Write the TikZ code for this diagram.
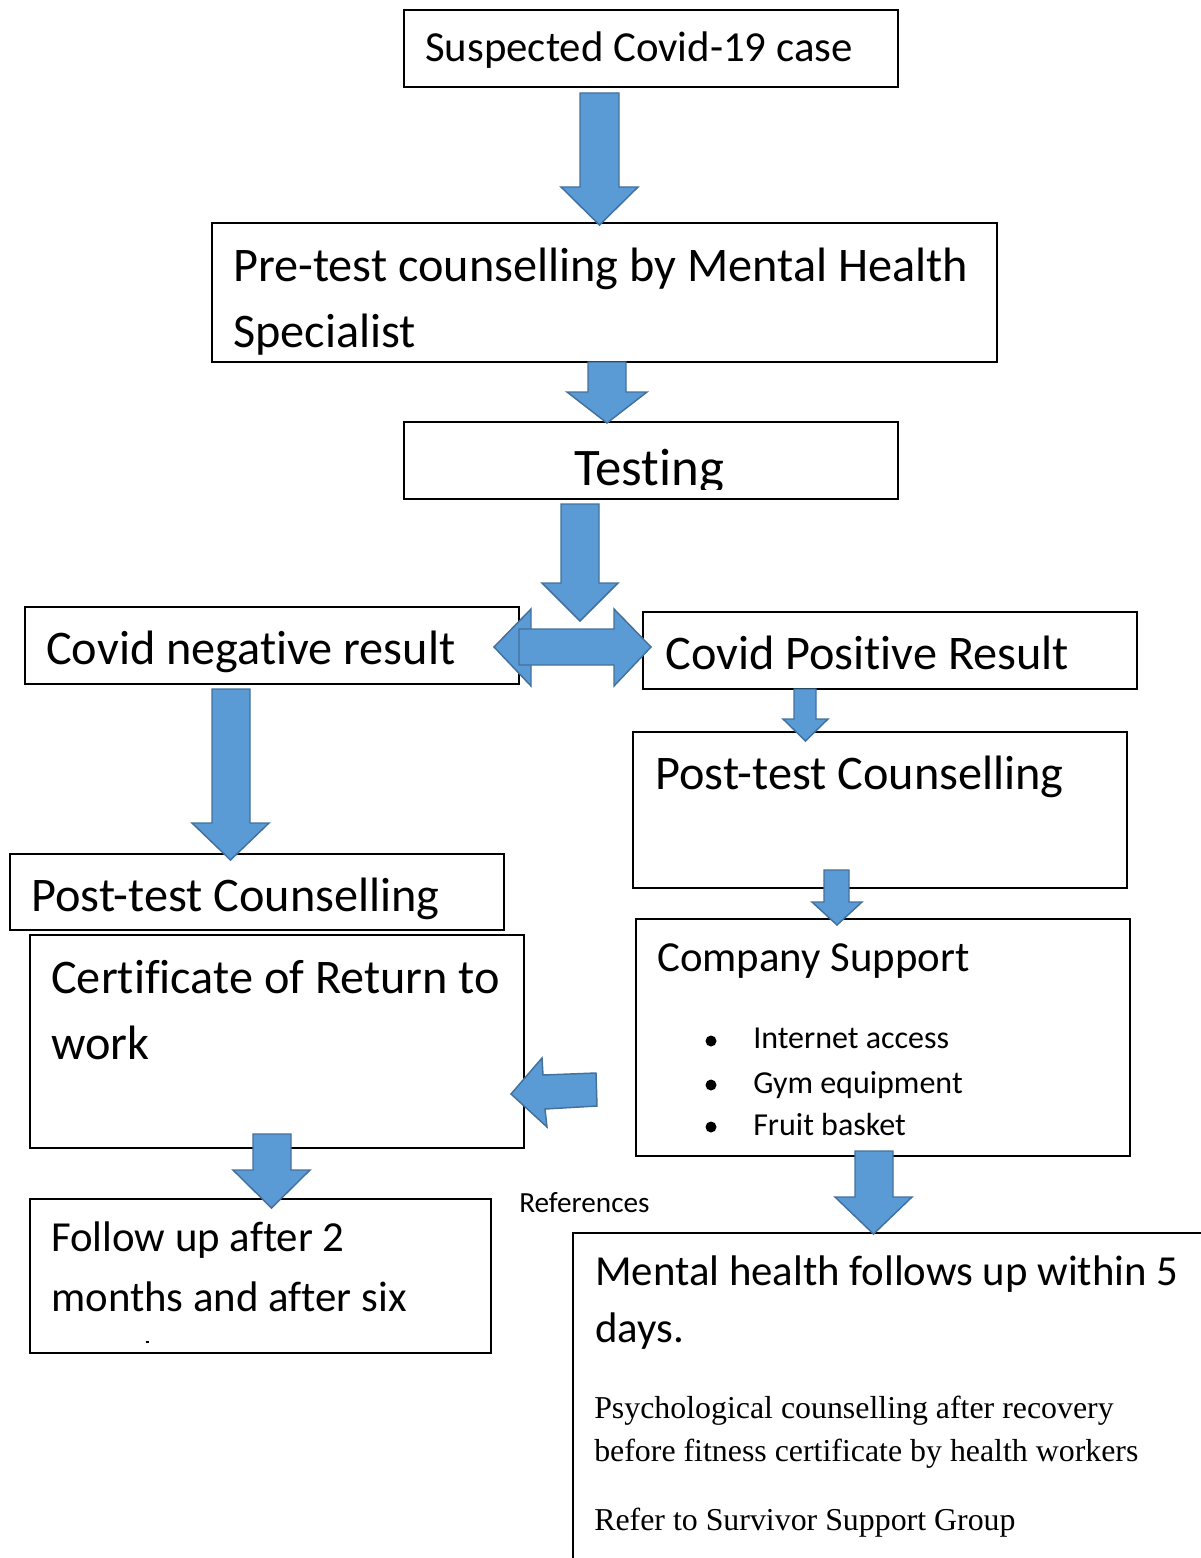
\documentclass[tikz,border=0pt]{standalone}
\usepackage{fontspec}
\setmainfont{Carlito}[Ligatures=NoCommon]
\newfontfamily\tnr{Liberation Serif}
\usetikzlibrary{fit}
\definecolor{arrfill}{HTML}{5B9BD5}
\definecolor{arrline}{HTML}{41719C}
\tikzset{
  box/.style={draw=black, line width=1.3pt, fill=white, inner sep=0pt},
  blockarrow/.style={fill=arrfill, draw=arrline, line width=1.1pt, line join=miter},
  txtL/.style={anchor=base west, inner sep=0pt, font=\fontsize{36.2}{43}\selectfont},
  txtM/.style={anchor=base west, inner sep=0pt, font=\fontsize{32.1}{38}\selectfont},
  txtS/.style={anchor=base west, inner sep=0pt, font=\fontsize{24}{29}\selectfont},
  txtR/.style={anchor=base west, inner sep=0pt, font=\fontsize{21.9}{26}\selectfont},
  txtT/.style={anchor=base west, inner sep=0pt, font=\tnr\fontsize{23.9}{29}\selectfont},
}
\newcommand{\dnarrow}[7]{%
  \path[blockarrow] (#1,#3) -- (#2,#3) -- (#2,#4) -- (#6,#4) -- ({(#5+#6)/2},#7) -- (#5,#4) -- (#1,#4) -- cycle;}
\begin{document}
\begin{tikzpicture}[x=0.75pt, y=-0.75pt]
\useasboundingbox (0,0) rectangle (1201,1558);
\clip (0,0) rectangle (1201,1558);
% boxes
\node[box, fit={(404,10) (898,87)}] (b1) {};
\node[box, fit={(212,223) (997,362)}] (b2) {};
\node[box, fit={(404,422) (898,499)}] (b3) {};
\node[box, fit={(25,607) (519,684)}] (bneg) {};
\node[box, fit={(643,612) (1137,689)}] (bpos) {};
\node[box, fit={(633,732) (1127,888)}] (bpostR) {};
\node[box, fit={(636,919) (1130,1156)}] (bcomp) {};
\node[box, fit={(10,854) (504,930)}] (bpostL) {};
\node[box, fit={(30,935) (524,1148)}] (bcert) {};
\node[box, fit={(30,1199) (491,1353)}] (bfollow) {};
\node[box, fit={(573,1233) (1215,1575)}] (bmental) {};
% texts
\node[txtM] (t1) at (425,62) {Suspected Covid-19 case};
\node[txtL] (t2a) at (233,282) {Pre-test counselling by Mental Health};
\node[txtL] (t2b) at (233,347) {Specialist};
\begin{scope}
\clip (404,422) rectangle (898,489);
\node[anchor=base west, inner sep=0pt, font=\fontsize{39.6}{47}\selectfont] (t3) at (574,485) {Testing};
\end{scope}
\node[txtL] (tneg) at (46,664) {Covid negative result};
\node[txtL] (tpos) at (665,669) {Covid Positive Result};
\node[txtL] (tpostR) at (655,789) {Post-test Counselling};
\node[txtL] (tpostL) at (31,911) {Post-test Counselling};
\node[txtL] (tcertA) at (51,993) {Certificate of Return to};
\node[txtL] (tcertB) at (51,1059) {work};
\node[txtM] (tcomp) at (657,971) {Company Support};
\fill (711,1041) circle (5.5);
\fill (711,1085) circle (5.5);
\fill (711,1127) circle (5.5);
\node[txtS] (ti1) at (753,1048) {Internet access};
\node[txtS] (ti2) at (753,1093) {Gym equipment};
\node[txtS] (ti3) at (753,1135) {Fruit basket};
\node[txtR] (tref) at (519,1212) {References};
\node[txtM] (tfA) at (51,1251) {Follow up after 2};
\node[txtM] (tfB) at (51,1311) {months and after six};
\draw[line width=0.8pt] (145.5,1342) -- (149,1342);
\node[txtM] (tmA) at (595,1285) {Mental health follows up within 5};
\node[txtM] (tmB) at (595,1342) {days.};
\node[txtT] (tpA) at (594,1418) {Psychological counselling after recovery};
\node[txtT] (tpB) at (594,1461) {before fitness certificate by health workers};
\node[txtT] (tpC) at (594,1530) {Refer to Survivor Support Group};
% block arrows
\dnarrow{580}{619}{93}{187}{561}{638}{225}
\dnarrow{588}{626}{362}{392}{567}{647}{423}
\dnarrow{561}{599}{504}{583}{542}{618}{621}
\path[blockarrow] (494,647) -- (531,609) -- (531,686) -- cycle;
\path[blockarrow] (519,629) -- (614,629) -- (614,609) -- (651,647) -- (614,686) -- (614,665) -- (519,665) -- cycle;
\dnarrow{794}{816}{689}{719}{783}{828}{741}
\dnarrow{824}{849}{870}{902}{812}{862}{925}
\dnarrow{855}{893}{1151}{1197}{835}{912}{1234}
\dnarrow{253}{291}{1134}{1170}{233}{310}{1208}
\dnarrow{212}{250}{689}{823}{192}{269}{860}
\path[blockarrow] (511,1094) -- (542,1058) -- (543,1075) -- (596,1073) -- (597,1106) -- (545,1109) -- (547,1127) -- cycle;
\end{tikzpicture}
\end{document}
